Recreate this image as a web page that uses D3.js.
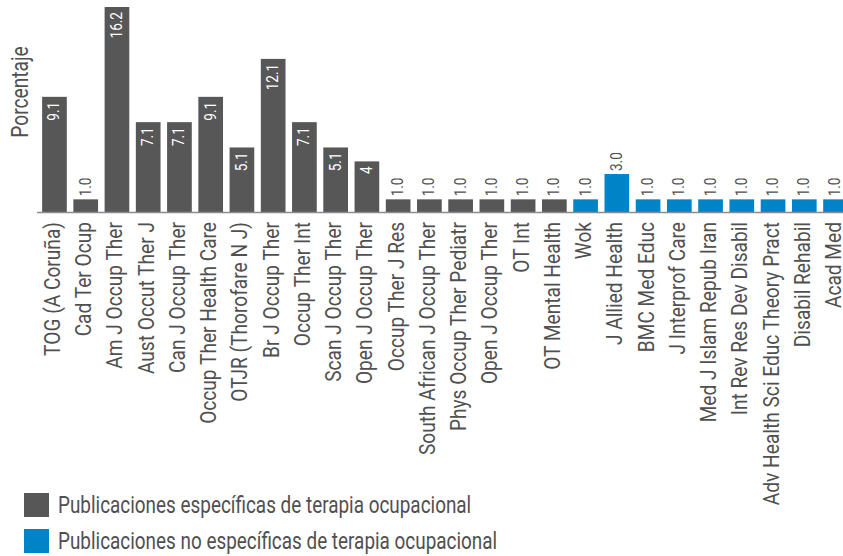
<!DOCTYPE html>
<html>
<head>
<meta charset="utf-8">
<script src="https://cdn.jsdelivr.net/npm/d3@7"></script>
<style>
    body { margin: 0; background: #fff; }
    text { font-family: Roboto, "Liberation Sans", sans-serif; }
</style>
</head>
<body>
<svg id="chart" width="843" height="556"></svg>
<script>
// --- Datos ---
const categories = [
    "TOG (A Coruña)", "Cad Ter Ocup", "Am J Occup Ther", "Aust Occut Ther J",
    "Can J Occup Ther", "Occup Ther Health Care", "OTJR (Thorofare N J)",
    "Br J Occup Ther", "Occup Ther Int", "Scan J Occup Ther", "Open J Occup Ther",
    "Occup Ther J Res", "South African J Occup Ther", "Phys Occup Ther Pediatr",
    "Open J Occup Ther", "OT Int", "OT Mental Health",
    "Wok", "J Allied Health", "BMC Med Educ", "J Interprof Care",
    "Med J Islam Repub Iran", "Int Rev Res Dev Disabil",
    "Adv Health Sci Educ Theory Pract", "Disabil Rehabil", "Acad Med"
];
const values = [9.1, 1.0, 16.2, 7.1, 7.1, 9.1, 5.1, 12.1, 7.1, 5.1, 4,
    1.0, 1.0, 1.0, 1.0, 1.0, 1.0,
    1.0, 3.0, 1.0, 1.0, 1.0, 1.0, 1.0, 1.0, 1.0];
const valueLabels = ["9.1", "1.0", "16.2", "7.1", "7.1", "9.1", "5.1", "12.1", "7.1", "5.1", "4",
    "1.0", "1.0", "1.0", "1.0", "1.0", "1.0",
    "1.0", "3.0", "1.0", "1.0", "1.0", "1.0", "1.0", "1.0", "1.0"];
const groups = [0, 0, 0, 0, 0, 0, 0, 0, 0, 0, 0, 0, 0, 0, 0, 0, 0,
    1, 1, 1, 1, 1, 1, 1, 1, 1];
const legendLabels = [
    "Publicaciones específicas de terapia ocupacional",
    "Publicaciones no específicas de terapia ocupacional"
];
const yLabel = "Porcentaje";

const colors = ["#575757", "#0084c8"];
const textColor = "#505050";
// the original uses a condensed face, so squeeze text horizontally
const squeeze = 0.8;
const squeezeCat = 0.87;

const svg = d3.select("#chart");
const baseY = 212;

const x = d3.scaleBand()
    .domain(d3.range(categories.length))
    .range([39, 851])
    .paddingInner(0.21)
    .paddingOuter(0.1);

const y = d3.scaleLinear()
    .domain([0, 16.2])
    .range([baseY, 7]);

// --- Barras ---
svg.selectAll(".bar")
    .data(values)
    .enter()
    .append("rect")
    .attr("class", "bar")
    .attr("x", (d, i) => x(i))
    .attr("y", d => y(d))
    .attr("width", x.bandwidth())
    .attr("height", d => baseY - y(d))
    .attr("fill", (d, i) => colors[groups[i]]);

// --- Eje X ---
const xAxis = svg.append("g")
    .attr("transform", `translate(0,${baseY})`)
    .call(d3.axisBottom(x).tickSize(0).tickFormat(i => categories[i]));

xAxis.select(".domain")
    .attr("stroke", "#8c8c8c")
    .attr("stroke-width", 1.5)
    .attr("d", "M37,0.5H843");

xAxis.selectAll("text")
    .attr("transform", `rotate(-90) scale(${squeezeCat},1)`)
    .attr("x", -10 / squeezeCat)
    .attr("y", 0)
    .attr("dy", "0.25em")
    .attr("text-anchor", "end")
    .attr("fill", textColor)
    .style("font-size", "22px");

// --- Etiquetas de valores ---
svg.selectAll(".val")
    .data(values)
    .enter()
    .append("text")
    .attr("class", "val")
    .attr("transform", (d, i) => `translate(${x(i) + x.bandwidth() / 2 - 1},${d >= 4 ? y(d) + 5 : y(d) - 3}) rotate(-90) scale(${squeeze},1)`)
    .attr("dy", "0.35em")
    .attr("text-anchor", d => d >= 4 ? "end" : "start")
    .attr("fill", d => d >= 4 ? "#fff" : textColor)
    .style("font-size", "17px")
    .text((d, i) => valueLabels[i]);

// --- Título eje Y ---
svg.append("text")
    .attr("transform", `translate(28,92) rotate(-90) scale(${squeeze},1)`)
    .attr("text-anchor", "middle")
    .attr("fill", textColor)
    .style("font-size", "24px")
    .text(yLabel);

// --- Leyenda ---
const legend = svg.selectAll(".legend")
    .data(legendLabels)
    .enter()
    .append("g")
    .attr("class", "legend")
    .attr("transform", (d, i) => `translate(24,${493 + i * 36})`);

legend.append("rect")
    .attr("width", 25)
    .attr("height", 24)
    .attr("fill", (d, i) => colors[i]);

legend.append("text")
    .attr("transform", `translate(34,12) scale(${squeeze * 0.985},1)`)
    .attr("dy", "0.35em")
    .attr("fill", textColor)
    .style("font-size", "24px")
    .text(d => d);
</script>
</body>
</html>
